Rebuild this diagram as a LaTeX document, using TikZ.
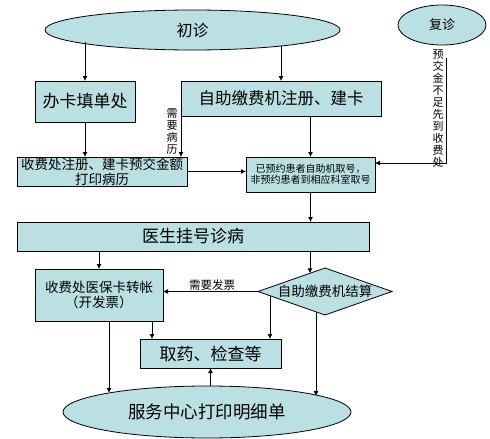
\documentclass[tikz,border=0pt]{standalone}
\usepackage{fontspec}
\setmainfont{Noto Sans CJK SC}
\usetikzlibrary{shapes.geometric,arrows.meta,calc}
\definecolor{cb}{RGB}{187,224,227}
\tikzset{
  box/.style={draw=black, fill=cb, line width=0.8pt, rectangle, inner sep=0pt, outer sep=0pt, align=center},
  oval/.style={draw=black, fill=cb, line width=0.8pt, ellipse, inner sep=0pt, outer sep=0pt},
  dia/.style={draw=black, fill=cb, line width=0.8pt, diamond, inner sep=0pt, outer sep=0pt},
  arr/.style={line width=0.8pt, -{Latex[length=5pt,width=5pt]}},
  ln/.style={line width=0.8pt},
  vlab/.style={align=center, inner sep=0pt, font=\fontsize{11}{12}\selectfont},
  f16/.style={font=\fontsize{16}{18}\selectfont},
  f14/.style={font=\fontsize{13.5}{15.5}\selectfont},
}
\begin{document}
\begin{tikzpicture}[x=1pt,y=-1pt]
\useasboundingbox (0,0) rectangle (490,439);
% nodes
\node[oval, f16, minimum width=295, minimum height=40] (chuzhen) at (192.5,30) {初诊};
\node[oval, font=\fontsize{13}{15}\selectfont, minimum width=88, minimum height=40] (fuzhen) at (442,25) {复诊};
\node[box, font=\fontsize{17}{19}\selectfont, minimum width=100, minimum height=41] (banka) at (85,101.5) {办卡填单处};
\node[box, font=\fontsize{16.5}{19}\selectfont, minimum width=200, minimum height=35] (zhuce) at (281,98.5) {自助缴费机注册、建卡};
\node[box, font=\fontsize{13.5}{15}\selectfont, minimum width=170, minimum height=29] (shoufei) at (102,171.5) {收费处注册、建卡预交金额\\打印病历};
\node[box, font=\fontsize{10}{11}\selectfont, minimum width=129, minimum height=35] (yuyue) at (310.5,174.5) {已预约患者自助机取号，\\非预约患者到相应科室取号};
\node[box, font=\fontsize{17}{19}\selectfont, minimum width=352, minimum height=29] (yisheng) at (193,236.5) {医生挂号诊病};
\node[box, f14, minimum width=128, minimum height=52] (yibao) at (99,295) {收费处医保卡转帐\\（开发票）};
\node[dia, f14, minimum width=134, minimum height=47, aspect=2.85] (jiesuan) at (325,291.5) {自助缴费机结算};
\node[box, font=\fontsize{17}{19}\selectfont, minimum width=141, minimum height=29] (quyao) at (210.5,353.5) {取药、检查等};
\node[oval, font=\fontsize{17.5}{19}\selectfont, minimum width=288, minimum height=52] (fuwu) at (207,412) {服务中心打印明细单};
% connectors
\draw[arr] (chuzhen.186.7 -| banka.north) -- (banka.north);
\draw[arr] (chuzhen.349.75 -| zhuce.north) -- (zhuce.north);
\draw[arr] (banka.south) -- (banka.south |- shoufei.north);
\draw[arr] (zhuce.south west) -- (zhuce.south west |- shoufei.north);
\node[vlab] (lbl1) at (172,132) {需\\要\\病\\历};
\draw[arr] (shoufei.east) -- (shoufei.east -| yuyue.west);
\draw[arr] (yuyue.north |- zhuce.south) -- (yuyue.north);
\coordinate (fz) at (446,58);
\draw[arr] (fz) |- ([yshift=11.5pt]yuyue.east);
\node[vlab] (lbl2) at (438,109) {预\\交\\金\\不\\足\\先\\到\\收\\费\\处};
\draw[arr] (yuyue.south) -- (yuyue.south |- yisheng.north);
\draw[arr] (yibao.north |- yisheng.south) -- (yibao.north);
\coordinate (dtop) at ($(jiesuan.north)!0.224!(jiesuan.west)$);
\draw[arr] (dtop |- yisheng.south) -- (dtop);
\draw[arr] (jiesuan.west) -- (jiesuan.west -| yibao.east);
\node[font=\fontsize{11.5}{13}\selectfont, inner sep=0pt] (lbl3) at (212,285.5) {需要发票};
\coordinate (ybr) at ([xshift=-11pt]yibao.south east);
\draw[arr] (ybr) -- (ybr |- quyao.north);
\coordinate (dl) at ($(jiesuan.west)!0.179!(jiesuan.south)$);
\draw[arr] (dl) -- (dl |- quyao.north);
\draw[arr] (fuwu.169.8 |- yibao.south) -- (fuwu.169.8);
\coordinate (db) at ($(jiesuan.south)!0.134!(jiesuan.west)$);
\draw[arr] (db) -- (db |- fuwu.8.9);
\draw[arr] (quyao.south |- fuwu.north) -- (quyao.south);
\end{tikzpicture}
\end{document}
